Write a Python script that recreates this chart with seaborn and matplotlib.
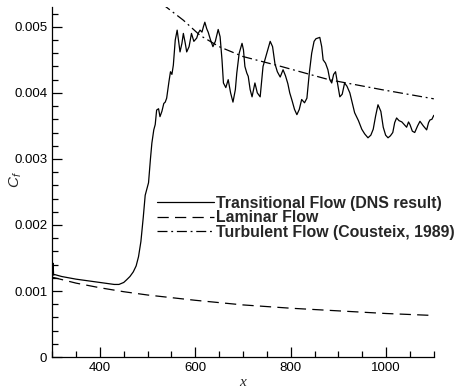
import numpy as np
import pandas as pd
import seaborn as sns
import matplotlib.pyplot as plt
from matplotlib.ticker import MultipleLocator, FixedLocator, FixedFormatter

## Transitional flow (DNS result)
trans_x = [300, 301, 302, 303, 305, 320, 350, 380, 410, 430, 440, 450, 456, 463, 470, 476, 481, 486,
           491, 495, 498, 502, 506, 509, 513, 516, 519, 523, 526, 530, 534, 537, 540, 545, 548, 551,
           554, 558, 562, 565, 568, 572, 575, 579, 582, 587, 592, 597, 603, 606, 610, 614, 617, 620,
           624, 627, 632, 637, 642, 648, 652, 656, 659, 664, 669, 674, 679, 684, 687, 692, 698, 701,
           704, 708, 711, 715, 719, 725, 730, 736, 742, 750, 757, 762, 767, 772, 778, 784, 789, 794,
           798, 803, 808, 813, 818, 823, 829, 834, 839, 844, 849, 853, 861, 865, 868, 873, 878, 882,
           886, 890, 894, 898, 903, 908, 913, 918, 924, 929, 934, 942, 949, 955, 962, 968, 973, 978,
           983, 989, 994, 999, 1004, 1009, 1014, 1018, 1022, 1027, 1033, 1038, 1043, 1047, 1050, 1055,
           1060, 1066, 1071, 1078, 1085, 1089, 1092, 1096, 1100]
trans_cf = [0.00150, 0.00128, 0.00142, 0.00124, 0.00125, 0.00122, 0.00118, 0.00115, 0.00112, 0.00110,
            0.00110, 0.00113, 0.00117, 0.00122, 0.00129, 0.00138, 0.00152, 0.00175, 0.00212, 0.00245,
            0.00253, 0.00264, 0.00300, 0.00324, 0.00344, 0.00352, 0.00374, 0.00376, 0.00364, 0.00372,
            0.00384, 0.00386, 0.00392, 0.00418, 0.00432, 0.00428, 0.00442, 0.00480, 0.00495, 0.00478,
            0.00462, 0.00475, 0.00490, 0.00475, 0.00462, 0.00470, 0.00490, 0.00478, 0.00483, 0.00490,
            0.00495, 0.00492, 0.00500, 0.00507, 0.00497, 0.00492, 0.00480, 0.00470, 0.00478, 0.00496,
            0.00485, 0.00450, 0.00415, 0.00408, 0.00420, 0.00400, 0.00386, 0.00405, 0.00430, 0.00460,
            0.00475, 0.00465, 0.00440, 0.00430, 0.00425, 0.00405, 0.00394, 0.00415, 0.00400, 0.00394,
            0.00440, 0.00460, 0.00478, 0.00470, 0.00444, 0.00432, 0.00424, 0.00435, 0.00426, 0.00414,
            0.00400, 0.00388, 0.00375, 0.00367, 0.00375, 0.00390, 0.00385, 0.00392, 0.00430, 0.00460,
            0.00478, 0.00482, 0.00484, 0.00470, 0.00450, 0.00445, 0.00435, 0.00420, 0.00415, 0.00428,
            0.00432, 0.00415, 0.00394, 0.00398, 0.00415, 0.00410, 0.00400, 0.00385, 0.00370, 0.00358,
            0.00345, 0.00338, 0.00332, 0.00336, 0.00345, 0.00365, 0.00382, 0.00372, 0.00348, 0.00336,
            0.00332, 0.00335, 0.00340, 0.00355, 0.00362, 0.00358, 0.00356, 0.00352, 0.00348, 0.00356,
            0.00352, 0.00342, 0.00340, 0.00350, 0.00357, 0.00350, 0.00344, 0.00355, 0.00359, 0.00360,
            0.00366]

## Laminar flow
lam_x = [300, 350, 400, 450, 500, 600, 700, 800, 900, 1000, 1100]
lam_cf = [0.00121, 0.00112, 0.00105, 0.00099, 0.00094, 0.00086, 0.00079, 0.00074, 0.00070, 0.00066, 0.00063]

## Turbulent flow (Cousteix, 1989)
turb_x = [530, 575, 610, 650, 700, 780, 880, 990, 1100]
turb_cf = [0.00535, 0.00510, 0.00487, 0.00470, 0.00455, 0.00440, 0.00420, 0.00405, 0.00391]

labels = ["Transitional Flow (DNS result)", "Laminar Flow", "Turbulent Flow (Cousteix, 1989)"]
y_ticks = [0, 0.001, 0.002, 0.003, 0.004, 0.005]
y_tick_labels = ["0", "0.001", "0.002", "0.003", "0.004", "0.005"]
x_ticks = [400, 600, 800, 1000]

sns.set_style("ticks")
plt.rcParams['font.family'] = ['Liberation Sans', 'DejaVu Sans']
plt.rcParams['mathtext.fontset'] = 'custom'
plt.rcParams['mathtext.it'] = 'Liberation Sans:italic'
plt.rcParams['mathtext.rm'] = 'Liberation Sans'

fig = plt.figure(figsize=(4.7, 3.89), dpi=100)
ax = fig.add_axes([0.111, 0.082, 0.812, 0.9])

df_t = pd.DataFrame({"x": trans_x, "cf": trans_cf})
df_l = pd.DataFrame({"x": lam_x, "cf": lam_cf})
df_u = pd.DataFrame({"x": turb_x, "cf": turb_cf})

sns.lineplot(data=df_t, x="x", y="cf", ax=ax, color="black", lw=0.9, sort=False,
             estimator=None, label=labels[0])
sns.lineplot(data=df_l, x="x", y="cf", ax=ax, color="black", lw=0.9, sort=False,
             estimator=None, label=labels[1])
sns.lineplot(data=df_u, x="x", y="cf", ax=ax, color="black", lw=0.9, sort=False,
             estimator=None, label=labels[2])
ax.lines[1].set_dashes([9, 5])
ax.lines[2].set_dashes([8, 3, 1.5, 3])

ax.set_xlim(300, 1100)
ax.set_ylim(0, 0.0053)
ax.xaxis.set_major_locator(FixedLocator(x_ticks))
ax.xaxis.set_minor_locator(MultipleLocator(50))
ax.yaxis.set_major_locator(FixedLocator(y_ticks))
ax.yaxis.set_major_formatter(FixedFormatter(y_tick_labels))
ax.yaxis.set_minor_locator(MultipleLocator(0.0002))
ax.tick_params(which="both", direction="in", labelsize=9.5, width=0.9, colors="black")
ax.tick_params(which="major", length=7)
ax.tick_params(which="minor", length=4)
sns.despine(ax=ax)
for s in ["left", "bottom"]:
    ax.spines[s].set_linewidth(0.9)
    ax.spines[s].set_color("black")

ax.set_xlabel("")
ax.set_ylabel("")
fig.text(243 / 470, 1 - 382 / 389, "x", fontstyle="italic", fontsize=11,
         family="Liberation Serif", ha="center", va="center")
fig.text(16 / 470, 1 - 180 / 389, "$C_f$", fontsize=11, rotation=90, ha="center", va="center")

leg = ax.legend(loc="upper left", bbox_to_anchor=(157 / 470, 1 - 196 / 389),
                bbox_transform=fig.transFigure, frameon=False, borderpad=0,
                handlelength=3.6, handletextpad=0.12, labelspacing=-0.04,
                prop={"weight": "bold", "size": 11.4}, borderaxespad=0)

fig.savefig("out.png", dpi=100)
